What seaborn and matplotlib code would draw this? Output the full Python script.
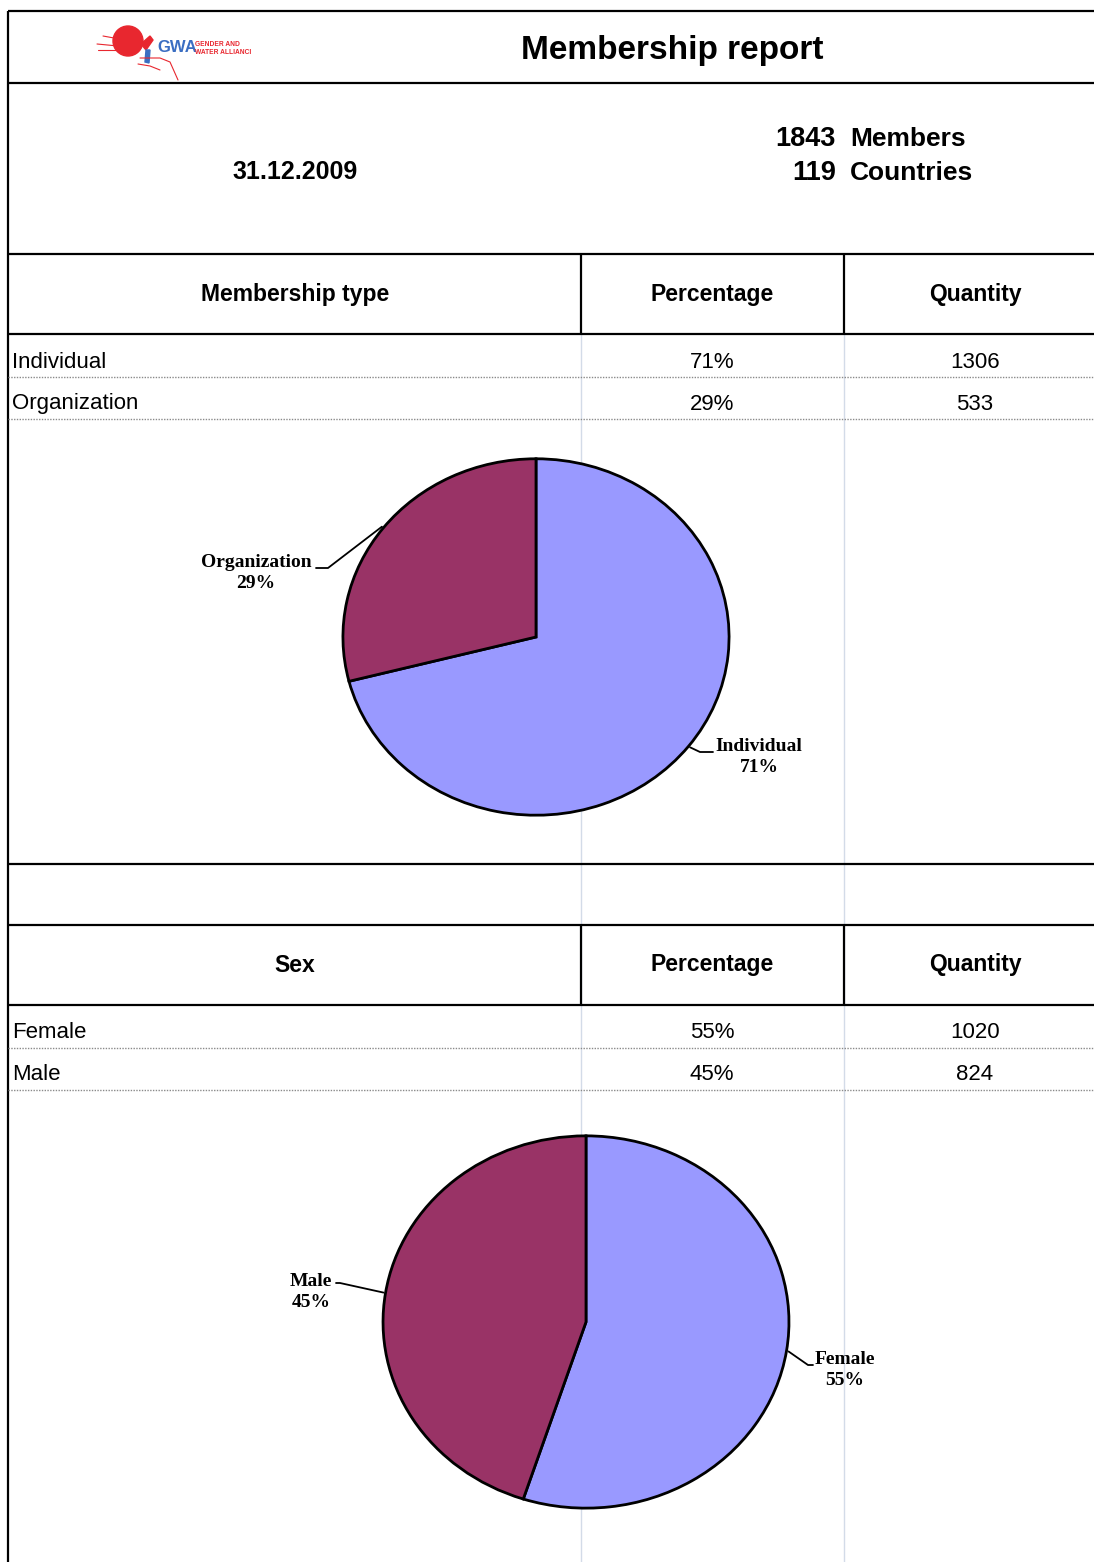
import numpy as np
import matplotlib
matplotlib.use('Agg')
import matplotlib.pyplot as plt
import seaborn as sns
from matplotlib.patches import Circle, Polygon

'''Dados do relatório'''
report_title = 'Membership report'
report_date = '31.12.2009'
total_members = 1843
total_countries = 119

type_header = 'Membership type'
type_labels = ['Individual', 'Organization']
type_pct = [71, 29]
type_qty = [1306, 533]

sex_header = 'Sex'
sex_labels = ['Female', 'Male']
sex_pct = [55, 45]
sex_qty = [1020, 824]

sns.set_theme(style='white')
plt.rcParams['font.family'] = ['Liberation Sans', 'DejaVu Sans']
plt.rcParams['text.color'] = 'black'
pie_colors = sns.color_palette(['#9999FF', '#993366'])

W, H = 1094, 1562
fig = plt.figure(figsize=(W / 100, H / 100), dpi=100)
bg = fig.add_axes([0, 0, 1, 1])
bg.set_xlim(0, W)
bg.set_ylim(H, 0)
bg.axis('off')

X0, XC1, XC2 = 8, 581, 844
COL_CENTERS = [295, 712, 975]


def hline(y, x1=X0, x2=W, **kw):
    bg.plot([x1, x2], [y, y], **kw)


def vline(x, y1, y2, **kw):
    bg.plot([x, x], [y1, y2], **kw)


solid = dict(color='black', lw=1.6, solid_capstyle='butt')
dotted = dict(color='#8a8a8a', lw=1.0, ls=(0, (1, 1)))
light = dict(color='#d3dbe8', lw=1.0)

# moldura e cabeçalho
hline(11, **solid)
vline(X0, 11, H, **solid)
hline(83, **solid)
vline(XC1, 334, H, **light)
vline(XC2, 334, H, **light)

bg.text(672, 47, report_title, ha='center', va='center_baseline', fontsize=24, fontweight='bold')
bg.text(295, 172, report_date, ha='center', va='center', fontsize=18, fontweight='bold')
bg.text(836, 139, str(total_members), ha='right', va='center', fontsize=19.5, fontweight='bold')
bg.text(850, 139, 'Members', ha='left', va='center', fontsize=19, fontweight='bold')
bg.text(836, 173, str(total_countries), ha='right', va='center', fontsize=19.5, fontweight='bold')
bg.text(850, 173, 'Countries', ha='left', va='center', fontsize=19, fontweight='bold')

# logo (aproximado)
bg.add_patch(Circle((128, 41), 15, color='#e8272f', zorder=3))
bg.add_patch(Polygon([[141, 44], [150, 36], [153, 40], [146, 50]], color='#e8272f', zorder=3))
bg.add_patch(Polygon([[146, 50], [150, 50], [149, 63], [145, 62]], color='#3b6ec2', zorder=3))
for xs, ys in [([97, 118], [44, 46]), ([98, 120], [50, 50]), ([103, 114], [36, 38]),
               ([140, 160, 170, 178], [58, 58, 62, 80]), ([138, 150, 160], [64, 66, 70])]:
    bg.plot(xs, ys, color='#e8272f', lw=0.8, zorder=3)
bg.text(157, 48, 'GWA', ha='left', va='center', fontsize=12, fontweight='bold',
        color='#3b6ec2', family=['Liberation Sans Narrow', 'Liberation Sans'])
bg.text(195, 44, 'GENDER AND', ha='left', va='center', fontsize=4.8, fontweight='bold', color='#e8272f')
bg.text(195, 52, 'WATER ALLIANCI', ha='left', va='center', fontsize=4.8, fontweight='bold', color='#e8272f')


def draw_table(y_top, header, labels, pct, qty):
    y_head = y_top + 80
    hline(y_top, **solid)
    hline(y_head, **solid)
    vline(XC1, y_top, y_head, **solid)
    vline(XC2, y_top, y_head, **solid)
    for x, t in zip(COL_CENTERS, [header, 'Percentage', 'Quantity']):
        bg.text(x, (y_top + y_head) / 2, t, ha='center', va='center', fontsize=16.5, fontweight='bold')
    for i, (lab, p, q) in enumerate(zip(labels, pct, qty)):
        yc = y_head + 28 + i * 42
        bg.text(12, yc, lab, ha='left', va='center', fontsize=16)
        bg.text(COL_CENTERS[1], yc, f'{p}%', ha='center', va='center', fontsize=16)
        bg.text(COL_CENTERS[2], yc, str(q), ha='center', va='center', fontsize=16)
        hline(y_head + 42 * (i + 1) + 1, **dotted)


def draw_pie(cx, cy, rx, ry, values, labels, text_xy, elbows):
    ax = fig.add_axes([(cx - rx) / W, 1 - (cy + ry) / H, 2 * rx / W, 2 * ry / H])
    ax.pie(values, colors=pie_colors, startangle=90, counterclock=False,
           wedgeprops=dict(edgecolor='black', linewidth=2))
    ax.set_aspect('auto')
    ax.set_xlim(-1.01, 1.01)
    ax.set_ylim(-1.01, 1.01)
    ax.axis('off')
    # linhas de chamada e rótulos
    frac = np.array(values) / np.sum(values)
    start = 90 - 360 * np.concatenate([[0], np.cumsum(frac)[:-1]])
    mids = np.deg2rad(start - 180 * frac)
    for m, lab, v, (tx, ty), (ex, ey, hx) in zip(mids, labels, values, text_xy, elbows):
        px, py = cx + rx * np.cos(m), cy - ry * np.sin(m)
        bg.plot([px, ex, hx], [py, ey, ey], color='black', lw=1.3, zorder=5)
        bg.text(tx, ty, f'{lab}\n{v}%', ha='center', va='center', fontsize=14,
                fontweight='bold', family=['Liberation Serif', 'DejaVu Serif'], linespacing=1.25, zorder=5)


draw_table(254, type_header, type_labels, type_pct, type_qty)
draw_pie(536, 637, 195, 180, type_pct, type_labels,
         text_xy=[(759, 757), (256, 573)],
         elbows=[(700, 752, 713), (328, 568, 316)])

hline(864, **solid)
draw_table(925, sex_header, sex_labels, sex_pct, sex_qty)
draw_pie(586, 1322, 205, 188, sex_pct, sex_labels,
         text_xy=[(845, 1370), (311, 1292)],
         elbows=[(808, 1365, 813), (340, 1283, 336)])

plt.savefig('out.png', dpi=100)
